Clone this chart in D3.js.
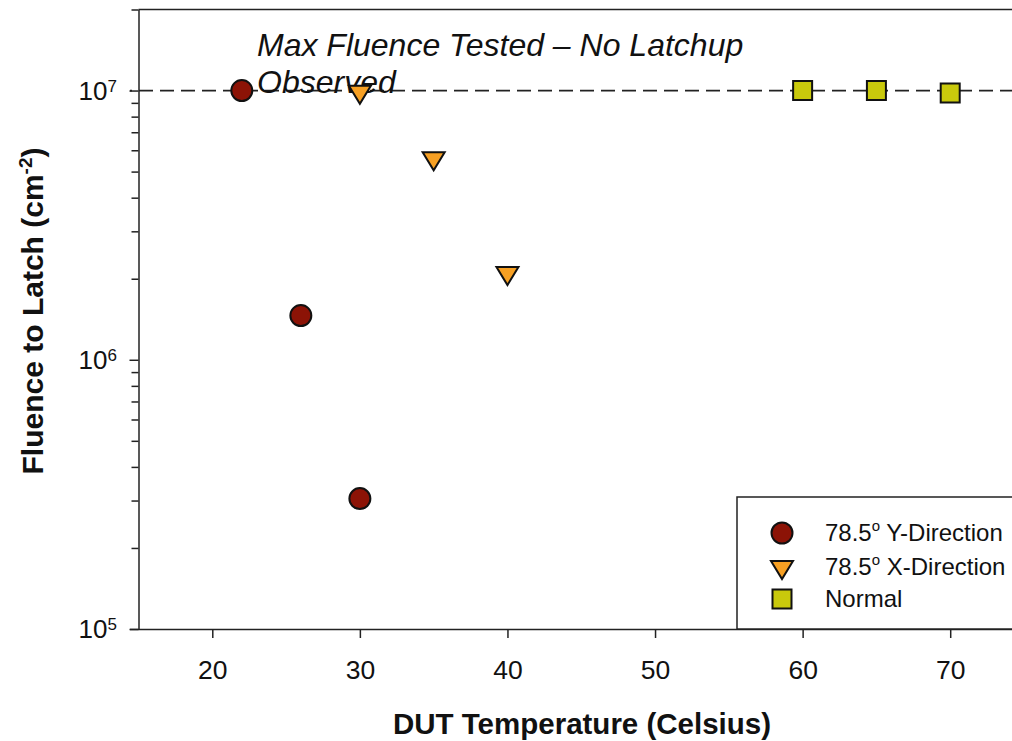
<!DOCTYPE html>
<html>
<head>
<meta charset="utf-8">
<script src="https://cdn.jsdelivr.net/npm/d3@7"></script>
<style>
  body { margin: 0; background: #fff; }
  text { font-family: Arial, "Liberation Sans", sans-serif; }
</style>
</head>
<body>
<div id="chart"></div>
<script>

// data
var yDirTemp = [22, 26, 30];
var yDirFluence = [1e7, 1.46e6, 3.05e5];

var xDirTemp = [30, 35, 40];
var xDirFluence = [9.9e6, 5.6e6, 2.1e6];

var normalTemp = [60, 65, 70];
var normalFluence = [1e7, 1e7, 9.8e6];

var xTicks = [20, 30, 40, 50, 60, 70];
var yMajor = [1e5, 1e6, 1e7];
var maxFluence = 1e7;

var seriesNames = ["78.5", "78.5", "Normal"];
var seriesSuffix = [" Y-Direction", " X-Direction", ""];
var colors = ["#8c1306", "#f7a023", "#c9c90c"];

var width = 1012, height = 741;

var svg = d3.select("#chart")
  .append("svg")
    .attr("width", width)
    .attr("height", height);

// scales (x domain runs past the right edge, the reference is cropped there)
var x = d3.scaleLinear().domain([15, 75]).range([138.5, 1024]);
var y = d3.scaleLog().domain([1e5, 2e7]).range([629, 9.5]);

// top frame line
svg.append("line")
  .attr("x1", x(15)).attr("x2", x(75))
  .attr("y1", y(2e7)).attr("y2", y(2e7))
  .attr("stroke", "#222").attr("stroke-width", 1.5);

// reference line at max fluence
svg.append("line")
  .attr("x1", 130).attr("x2", x(75))
  .attr("y1", y(maxFluence)).attr("y2", y(maxFluence))
  .attr("stroke", "#222")
  .attr("stroke-width", 1.7)
  .attr("stroke-dasharray", "14,7")
  .attr("stroke-dashoffset", -9);

// X axis
var xAxis = svg.append("g")
  .attr("transform", "translate(0," + y(1e5) + ")")
  .call(d3.axisBottom(x).tickValues(xTicks).tickSize(9).tickSizeOuter(0).tickPadding(22));
xAxis.select(".domain").attr("d", "M130,0.5H" + x(75));
xAxis.selectAll("line").attr("stroke", "#222").attr("stroke-width", 1.5);
xAxis.select(".domain").attr("stroke", "#222").attr("stroke-width", 1.5);
xAxis.selectAll("text")
  .attr("font-size", 26.5)
  .attr("fill", "#111")
  .style("font-family", "Arial, 'Liberation Sans', sans-serif");

// Y axis: minor ticks
var minor = [];
yMajor.slice(0, 2).forEach(function(d) {
  for (var k = 2; k <= 9; k++) minor.push(d * k);
});
minor.push(2e7);
var yMinorAxis = svg.append("g")
  .attr("transform", "translate(" + x(15) + ",0)")
  .call(d3.axisLeft(y).tickValues(minor).tickSize(7).tickFormat(""));
yMinorAxis.selectAll("line").attr("stroke", "#222").attr("stroke-width", 1.5);
yMinorAxis.select(".domain").remove();

// Y axis: majors + domain
var yAxis = svg.append("g")
  .attr("transform", "translate(" + x(15) + ",0)")
  .call(d3.axisLeft(y).tickValues(yMajor).tickSize(9).tickSizeOuter(0).tickFormat(""));
yAxis.select(".domain").attr("stroke", "#222").attr("stroke-width", 1.5);
yAxis.selectAll("line").attr("stroke", "#222").attr("stroke-width", 1.5);

// power-of-ten labels
var yLab = svg.append("g");
yMajor.forEach(function(d) {
  var t = yLab.append("text")
    .attr("x", 117)
    .attr("y", y(d) + 9)
    .attr("text-anchor", "end")
    .attr("font-size", 26)
    .attr("fill", "#111");
  t.append("tspan").text("10");
  t.append("tspan")
    .attr("dy", -8)
    .attr("font-size", 17)
    .text(Math.round(Math.log10(d)));
});

// axis titles
svg.append("text")
  .attr("x", 582)
  .attr("y", 734)
  .attr("text-anchor", "middle")
  .attr("font-size", 29.5)
  .attr("font-weight", "bold")
  .attr("fill", "#111")
  .text("DUT Temperature (Celsius)");

var yt = svg.append("text")
  .attr("transform", "translate(43,311) rotate(-90)")
  .attr("text-anchor", "middle")
  .attr("font-size", 30)
  .attr("font-weight", "bold")
  .attr("fill", "#111");
yt.append("tspan").text("Fluence to Latch (cm");
yt.append("tspan").attr("dy", -11).attr("font-size", 19).text("-2");
yt.append("tspan").attr("dy", 11).text(")");

// annotation
svg.append("text")
  .attr("x", 257)
  .attr("y", 56)
  .attr("font-size", 32)
  .attr("font-style", "italic")
  .attr("fill", "#111")
  .text("Max Fluence Tested \u2013 No Latchup");
svg.append("text")
  .attr("x", 257)
  .attr("y", 93)
  .attr("font-size", 32)
  .attr("font-style", "italic")
  .attr("fill", "#111")
  .text("Observed");

// symbols
var circleSym = d3.symbol().type(d3.symbolCircle).size(Math.PI * 10.5 * 10.5);
var squareSym = d3.symbol().type(d3.symbolSquare).size(19 * 19);
function triPath(s) {
  // downward triangle, width s, centered on its centroid
  var h = s * 0.82;
  return "M" + (-s / 2) + "," + (-h / 3) + "L" + (s / 2) + "," + (-h / 3) + "L0," + (2 * h / 3) + "Z";
}

// Y-direction circles
svg.selectAll("mycircle")
  .data(yDirTemp)
  .enter()
  .append("path")
    .attr("d", circleSym)
    .attr("transform", function(d, i) { return "translate(" + x(d) + "," + y(yDirFluence[i]) + ")"; })
    .attr("fill", colors[0])
    .attr("stroke", "#111")
    .attr("stroke-width", 2);

// X-direction triangles
svg.selectAll("mytri")
  .data(xDirTemp)
  .enter()
  .append("path")
    .attr("d", triPath(22))
    .attr("transform", function(d, i) { return "translate(" + x(d) + "," + y(xDirFluence[i]) + ")"; })
    .attr("fill", colors[1])
    .attr("stroke", "#111")
    .attr("stroke-width", 2);

// Normal squares
svg.selectAll("mysquare")
  .data(normalTemp)
  .enter()
  .append("path")
    .attr("d", squareSym)
    .attr("transform", function(d, i) { return "translate(" + x(d) + "," + y(normalFluence[i]) + ")"; })
    .attr("fill", colors[2])
    .attr("stroke", "#111")
    .attr("stroke-width", 2);

// legend
var lg = svg.append("g");
lg.append("rect")
  .attr("x", 737).attr("y", 497)
  .attr("width", 300).attr("height", 132)
  .attr("fill", "#fff")
  .attr("stroke", "#222")
  .attr("stroke-width", 1.5);

var legendY = [533, 567, 599];
var legendShapes = [circleSym(), triPath(22), squareSym()];
legendY.forEach(function(ly, i) {
  lg.append("path")
    .attr("d", legendShapes[i])
    .attr("transform", "translate(782," + ly + ")")
    .attr("fill", colors[i])
    .attr("stroke", "#111")
    .attr("stroke-width", 2);
  var t = lg.append("text")
    .attr("x", 825)
    .attr("y", ly + 8)
    .attr("font-size", 24)
    .attr("fill", "#111");
  t.append("tspan").text(seriesNames[i]);
  if (i < 2) {
    t.append("tspan").attr("dy", -10).attr("font-size", 15).text("o");
    t.append("tspan").attr("dy", 10).text(seriesSuffix[i]);
  }
});

</script>
</body>
</html>
